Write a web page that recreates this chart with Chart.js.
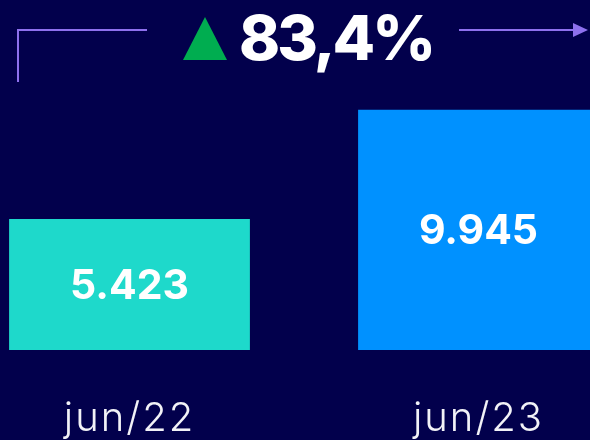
<!DOCTYPE html>
<html>
<head>
<meta charset="utf-8">
<script src="https://cdn.jsdelivr.net/npm/chart.js@4/dist/chart.umd.min.js"></script>
<style>
  html, body { margin: 0; padding: 0; background: #02004c; overflow: hidden; width: 590px; height: 440px; }
  #wrap { position: absolute; left: -45px; top: 0; width: 698px; height: 440px; }
</style>
</head>
<body>
<div id="wrap"><canvas id="c" width="698" height="440"></canvas></div>
<script>
const categories = ['jun/22', 'jun/23'];
const values = [5423, 9945];
const barColors = ['#1ed9cb', '#0091ff'];

const OFFSET = 45; // canvas is shifted left by this much

const fmt = v => v.toLocaleString('de-DE');
const growth = ((values[1] / values[0] - 1) * 100).toFixed(1).replace('.', ',') + '%';

const spacingPlugin = {
  id: 'spacing',
  beforeDraw(chart) { chart.ctx.letterSpacing = '2px'; },
  afterDatasetsDraw(chart) { chart.ctx.letterSpacing = '0px'; }
};

const labelsPlugin = {
  id: 'barLabels',
  afterDatasetsDraw(chart) {
    const ctx = chart.ctx;
    const meta = chart.getDatasetMeta(0);
    ctx.save();
    ctx.letterSpacing = '0px';
    ctx.fillStyle = '#ffffff';
    ctx.font = 'bold 41px Inter';
    ctx.textAlign = 'center';
    ctx.textBaseline = 'middle';
    meta.data.forEach((bar, i) => {
      const y = (bar.y + bar.base) / 2;
      ctx.fillText(fmt(values[i]), bar.x, y + 2);
    });
    ctx.restore();
  }
};

const headerPlugin = {
  id: 'header',
  afterDraw(chart) {
    const ctx = chart.ctx;
    ctx.save();
    ctx.translate(OFFSET, 0);
    // left bracket
    ctx.strokeStyle = '#8e70ee';
    ctx.lineWidth = 2;
    ctx.beginPath();
    ctx.moveTo(18, 82);
    ctx.lineTo(18, 30);
    ctx.lineTo(147, 30);
    ctx.stroke();
    // right arrow
    ctx.beginPath();
    ctx.moveTo(459, 30);
    ctx.lineTo(575, 30);
    ctx.stroke();
    ctx.fillStyle = '#8e70ee';
    ctx.beginPath();
    ctx.moveTo(573, 23);
    ctx.lineTo(588, 30);
    ctx.lineTo(573, 37);
    ctx.closePath();
    ctx.fill();
    // green triangle
    ctx.fillStyle = '#00ad50';
    ctx.beginPath();
    ctx.moveTo(183, 60);
    ctx.lineTo(205, 17);
    ctx.lineTo(227, 60);
    ctx.closePath();
    ctx.fill();
    // percentage
    ctx.fillStyle = '#ffffff';
    ctx.font = '800 62px Inter';
    ctx.letterSpacing = '-3px';
    ctx.textAlign = 'left';
    ctx.textBaseline = 'alphabetic';
    ctx.fillText(growth, 239, 60);
    ctx.restore();
  }
};

new Chart(document.getElementById('c'), {
  type: 'bar',
  data: {
    labels: categories,
    datasets: [{
      data: values,
      backgroundColor: barColors,
      borderWidth: 0,
      barPercentage: 0.69,
      categoryPercentage: 1
    }]
  },
  options: {
    responsive: false,
    animation: false,
    devicePixelRatio: 1,
    layout: { padding: { top: 60, left: 0, right: 0, bottom: 0 } },
    plugins: { legend: { display: false }, tooltip: { enabled: false } },
    scales: {
      x: {
        grid: { display: false, drawTicks: false },
        border: { display: false },
        ticks: { color: '#f2f2f7', font: { family: 'Inter', size: 40, weight: '300' }, padding: 45 },
        afterFit(s) { s.height = 90; }
      },
      y: {
        display: false,
        min: 0,
        max: 12000
      }
    }
  },
  plugins: [spacingPlugin, labelsPlugin, headerPlugin]
});
</script>
</body>
</html>
